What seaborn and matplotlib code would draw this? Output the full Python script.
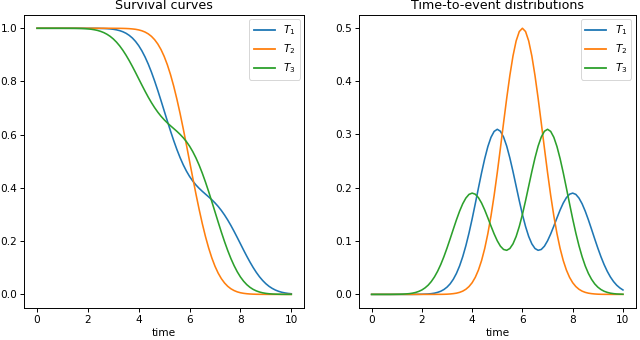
import numpy as np
import pandas as pd
import matplotlib
matplotlib.use("Agg")
import matplotlib.pyplot as plt
import seaborn as sns

# time grid
time = np.linspace(0, 10, 81)
series_names = ["$T_1$", "$T_2$", "$T_3$"]
colors = ["#1f77b4", "#ff7f0e", "#2ca02c"]

# survival curves
surv_T1 = [1.0, 1.0, 1.0, 1.0, 1.0, 1.0, 1.0, 1.0, 1.0, 1.0, 1.0, 1.0, 1.0,
           1.0, 1.0, 1.0, 0.9999, 0.9999, 0.9998, 0.9997, 0.9994, 0.9991, 0.9985,
           0.9976, 0.9962, 0.9941, 0.9911, 0.9869, 0.9812, 0.9734, 0.9634, 0.9505,
           0.9345, 0.9150, 0.8919, 0.8653, 0.8351, 0.8018, 0.7661, 0.7285, 0.6900,
           0.6515, 0.6138, 0.5780, 0.5446, 0.5142, 0.4871, 0.4635, 0.4431, 0.4259,
           0.4112, 0.3986, 0.3873, 0.3768, 0.3664, 0.3556, 0.3437, 0.3304, 0.3153,
           0.2983, 0.2795, 0.2589, 0.2368, 0.2137, 0.1901, 0.1664, 0.1434, 0.1215,
           0.1011, 0.0826, 0.0662, 0.0521, 0.0401, 0.0303, 0.0225, 0.0163, 0.0116,
           0.0080, 0.0055, 0.0036, 0.0024]
surv_T2 = [1.0, 1.0, 1.0, 1.0, 1.0, 1.0, 1.0, 1.0, 1.0, 1.0, 1.0, 1.0, 1.0,
           1.0, 1.0, 1.0, 1.0, 1.0, 1.0, 1.0, 1.0, 1.0, 1.0, 1.0, 0.9999,
           0.9998, 0.9997, 0.9995, 0.9991, 0.9985, 0.9975, 0.9961, 0.9938, 0.9905,
           0.9857, 0.9789, 0.9696, 0.9571, 0.9409, 0.9202, 0.8944, 0.8630, 0.8257,
           0.7827, 0.7340, 0.6804, 0.6227, 0.5621, 0.5000, 0.4379, 0.3773, 0.3196,
           0.2660, 0.2173, 0.1743, 0.1370, 0.1056, 0.0798, 0.0591, 0.0429, 0.0304,
           0.0211, 0.0144, 0.0095, 0.0062, 0.0040, 0.0025, 0.0015, 0.0009, 0.0005,
           0.0003, 0.0002, 0.0001, 0.0, 0.0, 0.0, 0.0, 0.0, 0.0, 0.0, 0.0]
surv_T3 = [1.0, 1.0, 1.0, 1.0, 1.0, 1.0, 1.0, 1.0, 1.0, 0.9999, 0.9999, 0.9998,
           0.9997, 0.9994, 0.9991, 0.9985, 0.9976, 0.9964, 0.9945, 0.9920, 0.9884,
           0.9837, 0.9775, 0.9697, 0.9599, 0.9479, 0.9338, 0.9174, 0.8989, 0.8785,
           0.8566, 0.8336, 0.8099, 0.7863, 0.7632, 0.7411, 0.7205, 0.7017, 0.6847,
           0.6696, 0.6563, 0.6444, 0.6336, 0.6232, 0.6127, 0.6014, 0.5888, 0.5741,
           0.5569, 0.5365, 0.5129, 0.4858, 0.4554, 0.4220, 0.3862, 0.3485, 0.3100,
           0.2715, 0.2339, 0.1982, 0.1649, 0.1347, 0.1081, 0.0850, 0.0655, 0.0495,
           0.0366, 0.0266, 0.0188, 0.0131, 0.0089, 0.0059, 0.0038, 0.0024, 0.0015,
           0.0009, 0.0006, 0.0003, 0.0002, 0.0001, 0.0001]

# time-to-event densities
dens_T1 = [0.0, 0.0, 0.0, 0.0, 0.0, 0.0, 0.0, 0.0, 0.0, 0.0, 0.0, 0.0,
           0.0, 0.0, 0.0001, 0.0002, 0.0003, 0.0005, 0.0008, 0.0014, 0.0023,
           0.0038, 0.0059, 0.0091, 0.0136, 0.0198, 0.0283, 0.0393, 0.0533, 0.0706,
           0.0912, 0.1150, 0.1415, 0.1700, 0.1993, 0.2279, 0.2543, 0.2770, 0.2944,
           0.3054, 0.3094, 0.3057, 0.2949, 0.2779, 0.2557, 0.2302, 0.2029, 0.1756,
           0.1498, 0.1272, 0.1085, 0.0947, 0.0860, 0.0826, 0.0842, 0.0903, 0.1004,
           0.1133, 0.1280, 0.1434, 0.1582, 0.1712, 0.1813, 0.1877, 0.1898, 0.1874,
           0.1805, 0.1698, 0.1559, 0.1397, 0.1221, 0.1042, 0.0868, 0.0705, 0.0559,
           0.0433, 0.0327, 0.0241, 0.0173, 0.0122, 0.0083]
dens_T2 = [0.0, 0.0, 0.0, 0.0, 0.0, 0.0, 0.0, 0.0, 0.0, 0.0, 0.0, 0.0, 0.0,
           0.0, 0.0, 0.0, 0.0, 0.0, 0.0, 0.0, 0.0, 0.0001, 0.0001, 0.0002, 0.0004,
           0.0008, 0.0014, 0.0023, 0.0038, 0.0061, 0.0096, 0.0147, 0.0219, 0.0320,
           0.0456, 0.0634, 0.0860, 0.1139, 0.1471, 0.1855, 0.2283, 0.2742, 0.3214,
           0.3675, 0.4102, 0.4468, 0.4749, 0.4926, 0.4987, 0.4926, 0.4749, 0.4468,
           0.4102, 0.3675, 0.3214, 0.2742, 0.2283, 0.1855, 0.1471, 0.1139, 0.0860,
           0.0634, 0.0456, 0.0320, 0.0219, 0.0147, 0.0096, 0.0061, 0.0038, 0.0023,
           0.0014, 0.0008, 0.0004, 0.0002, 0.0001, 0.0001, 0.0, 0.0, 0.0, 0.0, 0.0]
dens_T3 = [0.0, 0.0, 0.0, 0.0, 0.0, 0.0, 0.0, 0.0001, 0.0002, 0.0003, 0.0005,
           0.0009, 0.0014, 0.0023, 0.0036, 0.0056, 0.0083, 0.0122, 0.0173, 0.0241,
           0.0327, 0.0433, 0.0559, 0.0705, 0.0868, 0.1042, 0.1221, 0.1397, 0.1559,
           0.1698, 0.1805, 0.1874, 0.1898, 0.1877, 0.1813, 0.1712, 0.1582, 0.1434,
           0.1280, 0.1133, 0.1004, 0.0903, 0.0842, 0.0826, 0.0860, 0.0947, 0.1085,
           0.1272, 0.1498, 0.1756, 0.2029, 0.2302, 0.2557, 0.2779, 0.2949, 0.3057,
           0.3094, 0.3054, 0.2944, 0.2770, 0.2543, 0.2279, 0.1993, 0.1700, 0.1415,
           0.1150, 0.0912, 0.0706, 0.0533, 0.0393, 0.0283, 0.0198, 0.0136, 0.0091,
           0.0059, 0.0038, 0.0023, 0.0014, 0.0008, 0.0005, 0.0003]

def long_df(cols):
    frames = []
    for name, vals in zip(series_names, cols):
        frames.append(pd.DataFrame({"time": time, "value": vals, "series": name}))
    return pd.concat(frames, ignore_index=True)

surv_df = long_df([surv_T1, surv_T2, surv_T3])
dens_df = long_df([dens_T1, dens_T2, dens_T3])

fs = 7.6
plt.rcParams.update({
    "font.family": ["DejaVu Sans"],
    "font.size": fs,
    "axes.linewidth": 0.7,
    "xtick.major.width": 0.7,
    "ytick.major.width": 0.7,
    "xtick.major.size": 2.6,
    "ytick.major.size": 2.6,
    "xtick.major.pad": 2.6,
    "ytick.major.pad": 2.6,
    "legend.fontsize": fs,
})

fig = plt.figure(figsize=(6.4, 3.4), dpi=100)
ax1 = fig.add_axes([0.038, 0.095, 0.437, 0.861])
ax2 = fig.add_axes([0.561, 0.095, 0.432, 0.861])

for ax, df, title, yt in [(ax1, surv_df, "Survival curves", np.arange(0, 1.01, 0.2)),
                          (ax2, dens_df, "Time-to-event distributions", np.arange(0, 0.51, 0.1))]:
    sns.lineplot(data=df, x="time", y="value", hue="series", palette=colors,
                 linewidth=1.15, ax=ax, sort=False)
    ax.set_title(title, fontsize=fs * 1.2, pad=4)
    ax.set_xlabel("time", labelpad=2.5)
    ax.set_ylabel("")
    ax.set_xticks(np.arange(0, 11, 2))
    ax.set_yticks(yt)
    ax.yaxis.set_major_formatter(matplotlib.ticker.FormatStrFormatter("%.1f"))
    ax.margins(x=0.05, y=0.05)
    leg = ax.legend(loc="upper right", title=None, frameon=True, fancybox=True,
                    handlelength=2.0, borderaxespad=0.4)
    leg.get_frame().set_linewidth(0.7)
    for line in leg.get_lines():
        line.set_linewidth(1.3)

fig.savefig("out.png", dpi=100)
